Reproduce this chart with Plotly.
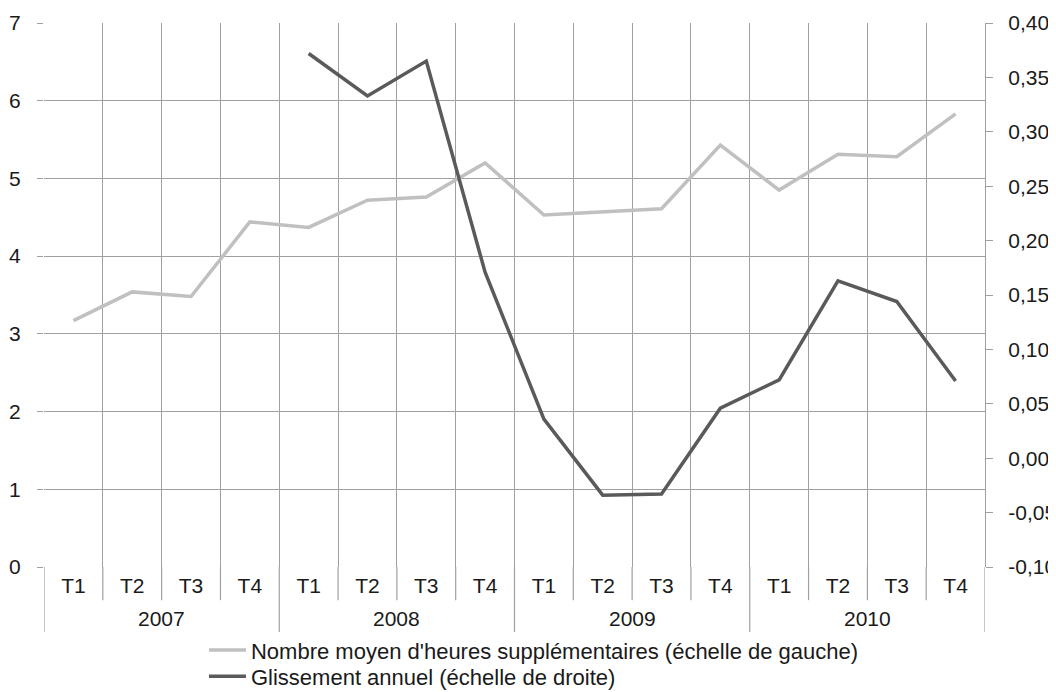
import plotly.graph_objects as go

years = ["2007", "2008", "2009", "2010"]
quarters = ["T1", "T2", "T3", "T4"] * 4

heures_sup = [3.17, 3.54, 3.48, 4.44, 4.37, 4.72, 4.76, 5.20,
              4.53, 4.57, 4.61, 5.43, 4.85, 5.31, 5.28, 5.83]
glissement = [None, None, None, None, 0.372, 0.333, 0.365, 0.171,
              0.036, -0.034, -0.033, 0.046, 0.072, 0.163, 0.144, 0.071]
right_ticks = [-0.10, -0.05, 0.00, 0.05, 0.10, 0.15, 0.20, 0.25, 0.30, 0.35, 0.40]

pos = list(range(len(quarters)))
bounds = [p - 0.5 for p in pos] + [pos[-1] + 0.5]

grid = "#a0a0a0"
font = dict(family="Liberation Sans, Arial, sans-serif", size=21, color="#1a1a1a")

fig = go.Figure()
fig.add_trace(go.Scatter(x=pos, y=heures_sup, mode="lines",
                         line=dict(color="#c0c0c0", width=3.5), legend="legend",
                         name="Nombre moyen d'heures supplémentaires (échelle de gauche)"))
fig.add_trace(go.Scatter(x=pos, y=glissement, mode="lines", yaxis="y2",
                         line=dict(color="#5a5a5a", width=3.5), legend="legend2",
                         name="Glissement annuel (échelle de droite)"))

# year labels, quarter separators and year dividers below the axis
for i, yr in enumerate(years):
    fig.add_annotation(x=pos[4 * i] + 1.5, y=-0.095, xref="x", yref="paper", text=yr,
                       showarrow=False, yanchor="middle", font=font)
for i, b in enumerate(bounds):
    depth = -0.1195 if i % 4 == 0 else -0.061
    fig.add_shape(type="line", x0=b, x1=b, y0=0, y1=depth, xref="x", yref="paper",
                  line=dict(color=grid, width=1.2))

leg = dict(xanchor="left", yanchor="middle", orientation="v", font=dict(size=22),
           itemwidth=37, bgcolor="rgba(0,0,0,0)")

# page body has an 8px margin, so the figure is a little smaller than the window
fig.update_layout(
    width=1048, height=684,
    margin=dict(l=36, r=71, t=15, b=125, autoexpand=False),
    paper_bgcolor="white", plot_bgcolor="white",
    font=font, showlegend=True,
    legend=dict(leg, x=0.17, y=-0.153),
    legend2=dict(leg, x=0.17, y=-0.201),
    xaxis=dict(range=[-0.5, 15.5], tickvals=pos, ticktext=quarters, ticks="",
               showgrid=False, zeroline=False, showline=False, ticklabelstandoff=4,
               minor=dict(tickvals=bounds, showgrid=True, gridcolor=grid, gridwidth=1.2),
               automargin=False),
    yaxis=dict(range=[0, 7], dtick=1, showgrid=True, gridcolor=grid, gridwidth=1.2,
               ticks="outside", ticklen=6, tickcolor=grid, tickwidth=1.2, zeroline=False,
               showline=False, ticklabelstandoff=12, automargin=False),
    yaxis2=dict(range=[-0.10, 0.40], tickvals=right_ticks,
                ticktext=[f"{v:.2f}".replace(".", ",") for v in right_ticks],
                overlaying="y", side="right", showgrid=False, zeroline=False,
                ticks="outside", ticklen=7, tickcolor=grid, tickwidth=1.2,
                showline=True, linecolor=grid, linewidth=1.2, ticklabelstandoff=11,
                automargin=False),
)

fig.write_html("out.html")
